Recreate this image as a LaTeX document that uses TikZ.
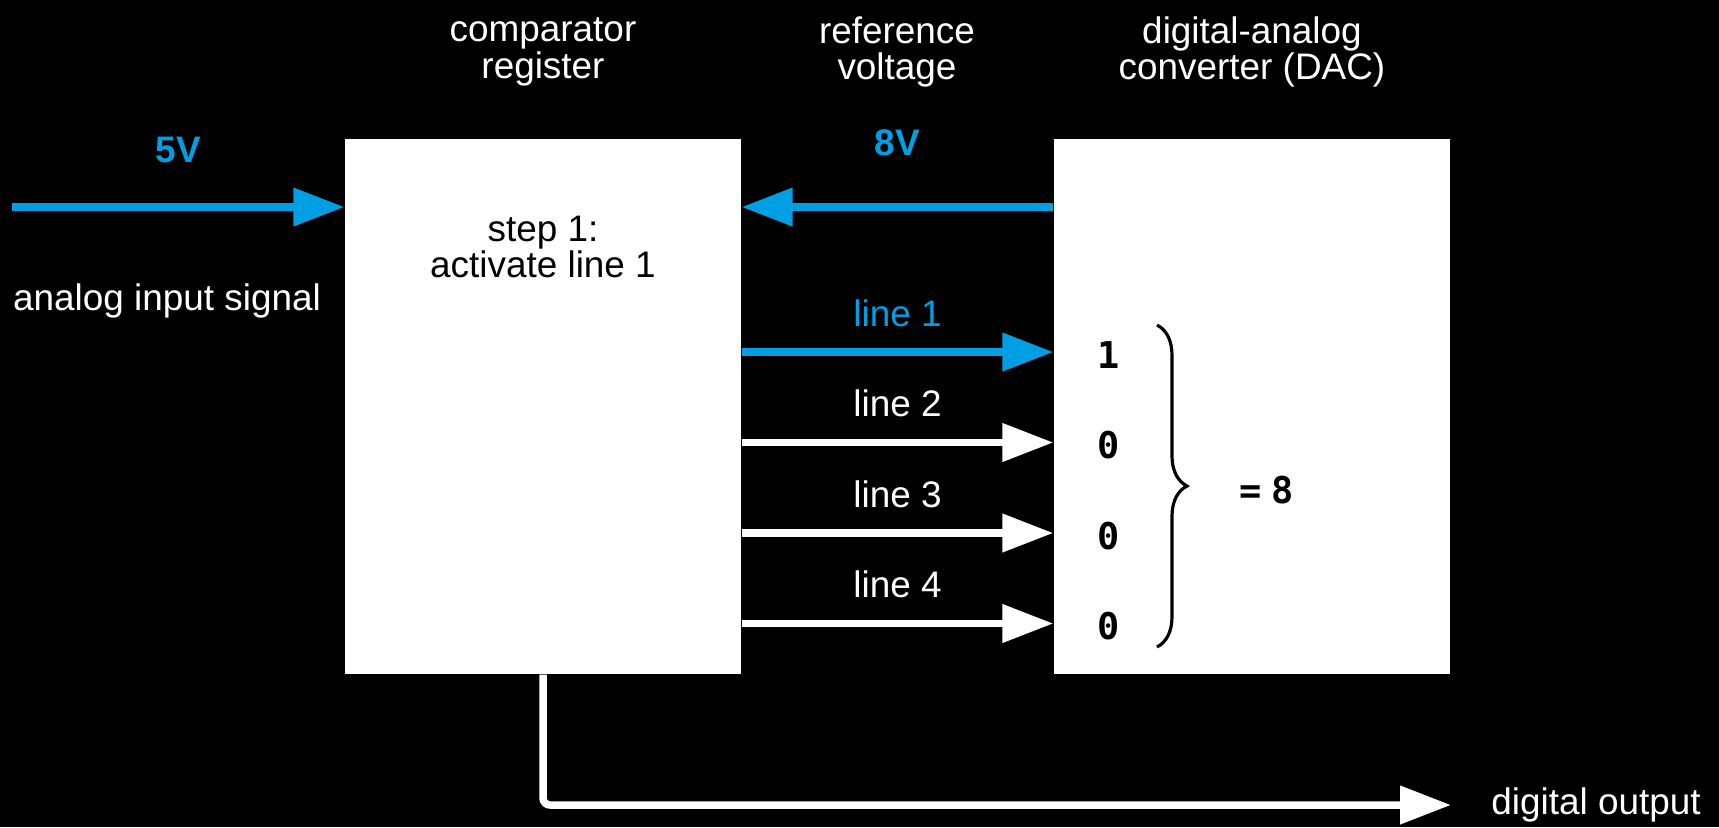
\documentclass[tikz,border=0pt]{standalone}
\usepackage{fontspec}
\setmainfont{Liberation Sans}
\setmonofont{DejaVu Sans Mono}
\usepackage{xcolor}
\usepackage{tikz}
\usetikzlibrary{arrows.meta, positioning, decorations.pathreplacing}
\definecolor{sigblue}{HTML}{009FE3}
\newcommand{\txtsize}{\fontsize{10.5pt}{10.4pt}\selectfont}
\tikzstyle{block} = [rectangle, fill=white, minimum width=3.96cm, minimum height=5.35cm, inner sep=0pt]
\tikzstyle{caption} = [text=white, align=center, font=\txtsize]
\tikzstyle{volt} = [text=sigblue, font=\txtsize\bfseries]
\tikzstyle{bit} = [text=black, font=\ttfamily\bfseries\txtsize]
\tikzstyle{flow} = [line width=0.75mm, -{Triangle[length=5.1mm, width=3.7mm]}, color=white]
\tikzstyle{sigflow} = [flow, color=sigblue]

\begin{document}
\begin{tikzpicture}[node distance=0.1cm and 0.3cm]

\fill[black] (0,0) rectangle (17.19,8.27);
\useasboundingbox (0,0) rectangle (17.19,8.27);

\node (comp) [block] at (5.43,4.205) {};
\node (dac) [block] at (12.52,4.205) {};
\node (step) [caption, text=black] at (5.43,5.80) {step 1:\\activate line 1};

\node (hcomp) [caption] at (5.43,7.75) {comparator\\register};
\node (href) [caption] at (8.97,7.75) {reference\\voltage};
\node (hdac) [caption] at (12.52,7.75) {digital-analog\\converter (DAC)};

\coordinate (ain) at (0.12,6.20);
\node (lin) [caption] at (1.67,5.265) {analog input signal};
\draw[sigflow] (ain) -- node[volt, above=0.29cm]{5V} (ain -| comp.west);
\draw[sigflow] (dac.west |- ain) -- node[volt, above=0.36cm]{8V} (comp.east |- ain);

\foreach \i/\b/\c [evaluate=\i as \y using 5.655-0.905*\i] in {1/1/sigblue, 2/0/white, 3/0/white, 4/0/white} {
  \coordinate (l\i) at (0,\y);
  \draw[flow, color=\c] (comp.east |- l\i) -- node[caption, text=\c, above=0.1cm]{line \i} (dac.west |- l\i);
  \node (b\i) [bit] at (11.09,\y-0.03) {\b};
}

\draw[decorate, decoration={brace, amplitude=0.3cm}, line width=0.9pt] (11.57,5.02) -- (11.57,1.80);
\node (sum) [bit] at (12.67,3.37) {=\hspace{1mm}8};

\coordinate (dout) at (14.51,0.22);
\draw[flow, rounded corners=2pt] (comp.south) |- (dout);
\node (lout) [caption, right=0.28cm of dout] {digital output};

\end{tikzpicture}
\end{document}
